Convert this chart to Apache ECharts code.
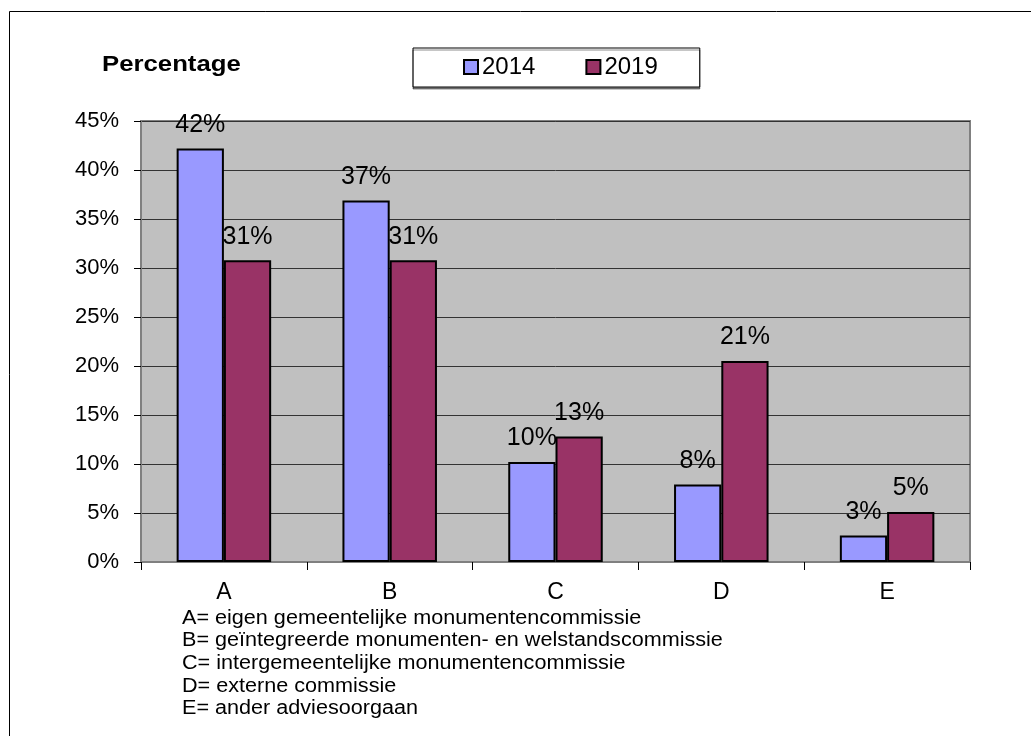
<!DOCTYPE html>
<html>
<head>
<meta charset="utf-8">
<script src="https://cdn.jsdelivr.net/npm/echarts@6/dist/echarts.min.js"></script>
<style>
  html, body { margin: 0; padding: 0; background: #fff; }
  #chart { width: 1031px; height: 736px; }
</style>
</head>
<body>
<div id="chart"></div>
<script>
const categories = ["A", "B", "C", "D", "E"]
const years = ["2014", "2019"]
const values2014 = [42.2, 36.9, 10.2, 7.9, 2.7]
const values2019 = [30.8, 30.8, 12.8, 20.5, 5.1]
const footnotes = [
  "A= eigen gemeentelijke monumentencommissie",
  "B= geïntegreerde monumenten- en welstandscommissie",
  "C= intergemeentelijke monumentencommissie",
  "D= externe commissie",
  "E= ander adviesoorgaan"
]

const font = "'Liberation Sans', Arial, sans-serif"
const chart = echarts.init(document.getElementById("chart"))

function barSeries(name, data, color, z) {
  return {
    name: name,
    type: "bar",
    data: data,
    z: z,
    barGap: "0%",
    barCategoryGap: "43%",
    itemStyle: { color: color, borderColor: "#000", borderWidth: 2 },
    label: {
      show: true,
      position: "top",
      distance: 11,
      color: "#000",
      fontFamily: font,
      fontSize: 25,
      formatter: p => Math.round(p.value) + "%"
    }
  }
}

chart.setOption({
  animation: false,
  backgroundColor: "#fff",
  textStyle: { fontFamily: font },
  grid: {
    left: 141, right: 61, top: 121, bottom: 174,
    show: true,
    backgroundColor: "#c0c0c0",
    borderColor: "#808080",
    borderWidth: 2
  },
  legend: {
    data: years,
    left: 413,
    top: 48,
    padding: [7, 42, 8, 50],
    itemGap: 50,
    itemWidth: 14,
    itemHeight: 14,
    icon: "rect",
    borderColor: "#000",
    borderWidth: 1,
    backgroundColor: "#fff",
    shadowColor: "rgba(0,0,0,0.45)",
    shadowOffsetY: 2,
    textStyle: { fontSize: 24, color: "#000", fontFamily: font, padding: [0, 0, 0, -1] }
  },
  xAxis: {
    type: "category",
    data: categories,
    axisLine: { lineStyle: { color: "#808080", width: 2 } },
    axisTick: { show: true, length: 8, lineStyle: { color: "#000" } },
    axisLabel: { color: "#000", fontSize: 23, margin: 19 }
  },
  yAxis: {
    type: "value",
    min: 0,
    max: 45,
    interval: 5,
    axisLine: { show: true, lineStyle: { color: "#808080", width: 2 } },
    axisTick: { show: true, length: 7, lineStyle: { color: "#000" } },
    splitLine: { lineStyle: { color: "#333", width: 1 } },
    axisLabel: { color: "#000", fontSize: 22, margin: 22, formatter: "{value}%" }
  },
  series: [
    barSeries(years[0], values2014, "#9999ff", 3),
    barSeries(years[1], values2019, "#993366", 2)
  ],
  graphic: [
    {
      type: "rect",
      z: -10,
      shape: { x: 9.5, y: 11.5, width: 1100, height: 800 },
      style: { fill: "none", stroke: "#000", lineWidth: 1 }
    },
    {
      type: "text",
      x: 102,
      y: 54,
      scaleX: 1.17,
      style: { text: "Percentage", fontFamily: font, fontWeight: "bold", fontSize: 22, fill: "#000" }
    },
    ...footnotes.map((t, i) => ({
      type: "text",
      x: 182,
      y: 608 + i * 22.7,
      scaleX: 1.08,
      style: { text: t, fontFamily: font, fontSize: 20, fill: "#000" }
    }))
  ]
})
</script>
</body>
</html>
